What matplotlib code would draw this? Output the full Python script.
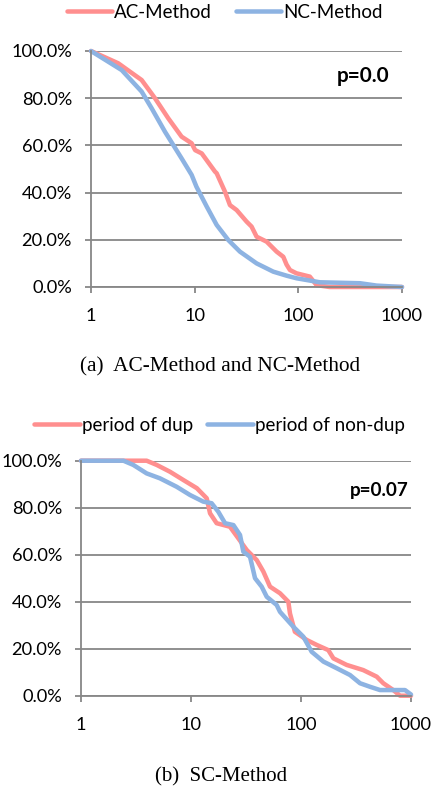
import numpy as np
import matplotlib.pyplot as plt
from matplotlib.ticker import PercentFormatter, NullLocator, FixedLocator

# (a) AC-Method vs NC-Method  (x, share remaining in %)
ac_x = [1, 1.83, 3.08, 4.14, 5.56, 7.48, 9.35, 10.1, 11.7, 15.7, 16.3, 19.6, 21.9, 25.4,
        31.7, 35.4, 39.6, 49.5, 61.7, 71.6, 77, 83, 96, 129, 150, 200, 1000]
ac_y = [100, 94.8, 87.7, 80, 71.5, 63.7, 60.9, 58, 56.6, 48.9, 48.2, 40.4, 34.7, 32.6,
        27.7, 25.6, 21.3, 19.2, 15, 12.8, 9.5, 7.2, 5.8, 4.4, 0.8, 0, 0]
nc_x = [1, 1.98, 3.08, 3.85, 5.17, 7.48, 9.35, 10.4, 13.1, 16.3, 21.1, 27.3, 39.6, 57.3,
        77, 96, 161, 393, 569, 1000]
nc_y = [100, 91.9, 82.8, 75.7, 65.8, 54.5, 47.5, 42.5, 34, 26.3, 19.9, 15, 10, 6.5,
        4.8, 3.7, 2, 1.6, 0.6, 0]

# (b) SC-Method: period of dup vs period of non-dup
dup_x = [1, 3.95, 4.88, 6.44, 8.51, 11.3, 13.9, 14.9, 17.1, 22.6, 26.9, 32.1, 39.6, 45.5,
         52.3, 64.4, 76.7, 79.4, 88, 113, 139, 177, 197, 260, 368, 488, 560, 690, 795, 1000]
dup_y = [100, 100, 98.2, 95.3, 91.8, 88.3, 84, 77.6, 73.4, 71.9, 67, 62, 57.7, 52.8,
         46.4, 43.6, 40, 35, 27.2, 23.7, 21.6, 19.4, 15.9, 13.1, 10.9, 8.1, 5.3, 2.4, 0, 0]
ndup_x = [1, 2.43, 2.99, 3.95, 5.22, 7.41, 9.8, 12.9, 15.4, 17.7, 20.4, 24.3, 27.9, 29.9,
          34.4, 38.2, 43.9, 48.8, 60.1, 64.4, 85, 105, 125, 160, 211, 279, 344, 424, 523,
          882, 1000]
ndup_y = [100, 100, 98.2, 94.6, 92.5, 88.9, 85.4, 82.6, 81.9, 78.3, 73.4, 72.6, 68.4, 61.3,
          59.1, 50, 46.4, 42.1, 38.6, 35.7, 29.4, 25.1, 18.7, 14.5, 11.7, 8.8, 5.3, 3.8, 2.4,
          2.4, 0.5]

x_ticks = [1, 10, 100, 1000]
y_ticks = [0, 20, 40, 60, 80, 100]

RED = '#FF8F8F'
BLUE = '#8DB3E2'
GRAY = '#878787'
FONT = 'Lato'
SERIF = 'Liberation Serif'
PX = 72 / 100  # points per pixel

fig = plt.figure(figsize=(4.32, 7.90), dpi=100)
renderer = fig.canvas.get_renderer()


def fit(s, width_px, family=FONT, weight='normal'):
    # font size (pt) that makes s about width_px wide
    t = fig.text(0, 0, s, fontsize=10, family=family, weight=weight)
    w = t.get_window_extent(renderer).width
    t.remove()
    return 10 * width_px / w


tick_fs = fit('100.0%', 61)


def style_axes(ax):
    ax.set_xscale('log')
    ax.set_xlim(1, 1000)
    ax.set_ylim(0, 100)
    ax.xaxis.set_major_locator(FixedLocator(x_ticks))
    ax.xaxis.set_minor_locator(NullLocator())
    ax.set_xticklabels([str(t) for t in x_ticks])
    ax.set_yticks(y_ticks)
    ax.yaxis.set_major_formatter(PercentFormatter(decimals=1))
    ax.grid(axis='y', color=GRAY, linewidth=1.3)
    ax.set_axisbelow(True)
    for s in ['top', 'right']:
        ax.spines[s].set_visible(False)
    for s in ['left', 'bottom']:
        ax.spines[s].set_color(GRAY)
        ax.spines[s].set_linewidth(1.3)
    ax.tick_params(direction='out', length=6 * PX, width=1.3, color=GRAY,
                   labelsize=tick_fs)
    ax.tick_params(axis='y', pad=13 * PX)
    ax.tick_params(axis='x', pad=15 * PX)
    for lab in ax.get_xticklabels() + ax.get_yticklabels():
        lab.set_fontfamily(FONT)


def add_legend(handles, fs, x0, y0, line_px, gap_px, col_px):
    em = fs / PX
    fig.legend(handles=handles, loc='center left',
               bbox_to_anchor=(x0 / 432, 1 - y0 / 790), ncol=2, frameon=False,
               prop={'family': FONT, 'size': fs}, handlelength=line_px / em,
               handletextpad=gap_px / em, columnspacing=col_px / em,
               borderpad=0, borderaxespad=0)


LW = 4.5 * PX

# top panel
ax1 = fig.add_axes([91 / 432, 1 - 287 / 790, 311 / 432, 236 / 790])
style_axes(ax1)
l1, = ax1.plot(ac_x, ac_y, color=RED, linewidth=LW, label='AC-Method', clip_on=False,
               solid_capstyle='round', solid_joinstyle='round')
l2, = ax1.plot(nc_x, nc_y, color=BLUE, linewidth=LW, label='NC-Method', clip_on=False,
               solid_capstyle='round', solid_joinstyle='round')
ax1.text(0.961, 0.894, 'p=0.0', transform=ax1.transAxes, ha='right', va='center',
         fontsize=fit('p=0.0', 53, weight='bold'), fontweight='bold', fontfamily=FONT)
add_legend([l1, l2], fit('AC-Method', 98), 67, 12, 45, 2, 24)
fig.text(220 / 432, 1 - 367 / 790, '(a)  AC-Method and NC-Method', ha='center',
         va='center', fontsize=fit('(a)  AC-Method and NC-Method', 280, SERIF),
         fontfamily=SERIF)

# bottom panel
ax2 = fig.add_axes([81 / 432, 1 - 695.7 / 790, 330 / 432, 235 / 790])
style_axes(ax2)
l3, = ax2.plot(dup_x, dup_y, color=RED, linewidth=LW, label='period of dup',
               clip_on=False, solid_capstyle='round', solid_joinstyle='round')
l4, = ax2.plot(ndup_x, ndup_y, color=BLUE, linewidth=LW, label='period of non-dup',
               clip_on=False, solid_capstyle='round', solid_joinstyle='round')
ax2.text(0.994, 0.875, 'p=0.07', transform=ax2.transAxes, ha='right', va='center',
         fontsize=fit('p=0.07', 59, weight='bold'), fontweight='bold', fontfamily=FONT)
add_legend([l3, l4], fit('period of dup', 112), 34, 425, 46, 2, 14)
fig.text(221 / 432, 1 - 777 / 790, '(b)  SC-Method', ha='center', va='center',
         fontsize=fit('(b)  SC-Method', 132, SERIF), fontfamily=SERIF)

fig.savefig('out.png', dpi=100)
